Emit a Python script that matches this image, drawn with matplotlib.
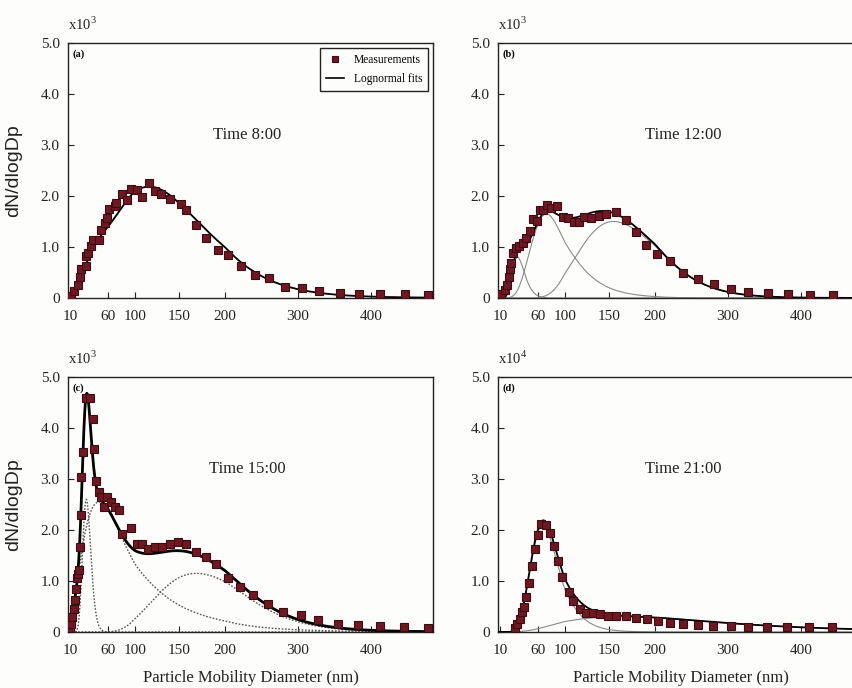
import numpy as np
import matplotlib
matplotlib.use('Agg')
import matplotlib.pyplot as plt
from matplotlib.lines import Line2D

plt.rcParams['font.family'] = 'Liberation Serif'
plt.rcParams['mathtext.fontset'] = 'custom'
plt.rcParams['mathtext.rm'] = 'Liberation Serif'

# ---- measurements (dN/dlogDp, in units of the x10^n label) ----
a_dp = [12, 16, 20.7, 22.9, 25, 30.7, 31.5, 33.7, 38, 40.2, 48, 50.2, 55.5, 59, 61.2,
        69.7, 72.1, 80.5, 87.9, 93.2, 102.5, 108.2, 115.8, 122.3, 129.9, 140.2, 151.9,
        158, 168.9, 179, 192.5, 204.2, 222.5, 240.7, 261, 281.8, 306, 328.9, 357, 383.7,
        413, 446, 478]
a_n = [0.03, 0.13, 0.26, 0.42, 0.56, 0.62, 0.82, 0.88, 1.01, 1.14, 1.14, 1.34, 1.47, 1.57,
       1.75, 1.80, 1.86, 2.03, 1.93, 2.14, 2.12, 1.98, 2.25, 2.10, 2.03, 1.95, 1.85, 1.73,
       1.44, 1.18, 0.95, 0.85, 0.62, 0.46, 0.39, 0.22, 0.20, 0.13, 0.10, 0.07, 0.08, 0.08, 0.06]

b_dp = [12, 16.3, 19.4, 22, 22.9, 25, 27.2, 30.7, 35, 40.2, 44.6, 49, 53.3, 58.5, 62.3,
        67.2, 73.1, 79.5, 87.9, 96.8, 103.3, 109.8, 115.8, 121.2, 129.9, 138.6, 146.6,
        157.2, 168.9, 179, 190.7, 203.3, 220, 239, 259, 280.5, 303.7, 327, 355, 382,
        412, 444, 478]
b_n = [0.07, 0.16, 0.26, 0.42, 0.56, 0.69, 0.88, 0.98, 1.01, 1.08, 1.18, 1.31, 1.54, 1.50,
       1.72, 1.73, 1.83, 1.76, 1.80, 1.59, 1.57, 1.49, 1.49, 1.59, 1.56, 1.60, 1.65, 1.68,
       1.52, 1.29, 1.03, 0.87, 0.73, 0.48, 0.38, 0.28, 0.18, 0.11, 0.10, 0.07, 0.05, 0.05, 0.03]

c_dp = [10.7, 12, 13.3, 15, 16.3, 17.6, 19.4, 21.1, 22, 22.9, 24.1, 25, 27.2, 31.5, 35.9,
        40.2, 41.5, 44.6, 47.6, 51.1, 54.6, 59, 63.7, 69.7, 76.1, 80.5, 94.2, 102, 108,
        114.7, 122.3, 130.6, 139.4, 148.8, 158, 169, 179, 190.7, 204, 221, 238, 259,
        279.5, 303.7, 327, 355, 382, 412, 445, 478]
c_n = [0.07, 0.16, 0.29, 0.46, 0.62, 0.85, 1.05, 1.14, 1.21, 1.67, 2.29, 3.04, 3.53, 4.58,
       4.58, 4.18, 3.59, 2.97, 2.75, 2.65, 2.45, 2.65, 2.55, 2.45, 2.39, 1.93, 2.03, 1.73,
       1.73, 1.63, 1.67, 1.67, 1.73, 1.76, 1.73, 1.57, 1.47, 1.34, 1.05, 0.88, 0.72, 0.54,
       0.39, 0.33, 0.23, 0.16, 0.13, 0.11, 0.10, 0.08]

d_dp = [29.4, 32.4, 35.9, 39.4, 41.5, 44.6, 47.6, 52, 56.3, 59.8, 63.7, 71.1, 78, 83, 89.4,
        95.8, 104.4, 109, 116.6, 124.2, 131.8, 139.4, 148.8, 158, 169, 179.7, 191.4, 204,
        220, 239, 259, 279.5, 304.5, 327, 353, 381, 411, 443, 478]
d_n = [0.07, 0.16, 0.26, 0.39, 0.49, 0.69, 0.97, 1.29, 1.63, 1.90, 2.11, 2.09, 1.95, 1.68,
       1.39, 1.07, 0.78, 0.61, 0.46, 0.37, 0.37, 0.35, 0.31, 0.31, 0.31, 0.28, 0.26, 0.21,
       0.18, 0.15, 0.14, 0.12, 0.11, 0.10, 0.09, 0.09, 0.09, 0.09, 0.08]

# ---- lognormal mode parameters: peak height, geometric mean Dp (nm), geometric std ----
a_amp, a_dg, a_sg = [1.2, 1.6], [60, 130], [1.82, 1.46]
b_amp, b_dg, b_sg = [0.8, 1.65, 1.5], [33, 72, 155], [1.28, 1.43, 1.34]
c_amp, c_dg, c_sg = [2.6, 2.55, 1.15], [31.5, 48, 169], [1.185, 1.9, 1.36]
d_amp, d_dg, d_sg = [2.1, 0.3], [67, 165], [1.34, 1.78]

times = ['Time 8:00', 'Time 12:00', 'Time 15:00', 'Time 21:00']
labels = ['(a)', '(b)', '(c)', '(d)']
exps = ['3', '3', '3', '4']

# x axis of the original is stretched unevenly between the labelled ticks
xticks = [10, 60, 100, 150, 200, 300, 400]
axis_nm = [0, 10, 60, 100, 150, 200, 300, 400, 500]
axis_pos = [-0.016, 0.005, 0.110, 0.184, 0.304, 0.430, 0.630, 0.830, 1.030]


def to_pos(x):
    return np.interp(x, axis_nm, axis_pos)


def to_nm(p):
    return np.interp(p, axis_pos, axis_nm)


def lognormal(dp, amp, dg, sg):
    return amp * np.exp(-np.log(dp / dg) ** 2 / (2 * np.log(sg) ** 2))


RED = '#701822'
EDGE = '#3a0d10'
BG = '#fdfdfb'

fig = plt.figure(figsize=(8.52, 6.88), dpi=100, facecolor=BG)
rects = [[0.0798, 0.5669, 0.4284, 0.3706],
         [0.5845, 0.5669, 0.4284, 0.3706],
         [0.0798, 0.0814, 0.4284, 0.3706],
         [0.5845, 0.0814, 0.4284, 0.3706]]

panels = [(a_dp, a_n, a_amp, a_dg, a_sg),
          (b_dp, b_n, b_amp, b_dg, b_sg),
          (c_dp, c_n, c_amp, c_dg, c_sg),
          (d_dp, d_n, d_amp, d_dg, d_sg)]

grid = np.geomspace(8, 500, 600)

for i, (dp, n, amp, dg, sg) in enumerate(panels):
    ax = fig.add_axes(rects[i])
    ax.set_facecolor(BG)
    ax.set_xscale('function', functions=(to_pos, to_nm))

    # component modes
    total = np.zeros_like(grid)
    for A, D, S in zip(amp, dg, sg):
        comp = lognormal(grid, A, D, S)
        total += comp
        if i == 2:
            ax.plot(grid, comp, color='#555555', lw=1.0, ls=(0, (1.2, 1.2)))
        elif i in (1, 3):
            ax.plot(grid, comp, color='#8a8a8a', lw=0.8)

    ax.plot(grid, total, color='black', lw=2.0 if i == 2 else 1.3, zorder=3)
    ax.plot(dp, n, ls='none', marker='s', ms=6, mfc=RED, mec=EDGE, mew=0.8, zorder=4)

    ax.set_xlim(to_nm(0), to_nm(1))
    ax.set_ylim(0, 5)
    ax.set_xticks(xticks)
    ax.set_xticklabels([str(t) for t in xticks])
    ax.set_yticks([0, 1, 2, 3, 4, 5])
    ax.set_yticklabels(['0', '1.0', '2.0', '3.0', '4.0', '5.0'])
    ax.minorticks_off()
    ax.tick_params(direction='in', length=4, width=0.8, labelsize=11, colors='#222222')
    ax.tick_params(axis='x', pad=9)
    ax.tick_params(axis='y', pad=6)
    for sp in ax.spines.values():
        sp.set_linewidth(1.0)
        sp.set_color('#222222')

    ax.text(0.0, 1.075, r'x10$^{%s}$' % exps[i], transform=ax.transAxes,
            fontsize=10.5, va='center', ha='left', color='#222222')
    ax.text(0.012, 0.957, labels[i], transform=ax.transAxes, fontsize=7.5,
            fontweight='bold', va='center', ha='left')
    ax.text(0.49 if i % 2 == 0 else 0.507, 0.64, times[i], transform=ax.transAxes,
            fontsize=12, ha='center', va='center', color='#222222')

    if i % 2 == 0:
        ax.set_ylabel('dN/dlogDp', family='Liberation Sans', fontsize=14, color='#222222')
        ax.yaxis.set_label_coords(-0.125, 0.5)
    if i >= 2:
        ax.set_xlabel('Particle Mobility Diameter (nm)', fontsize=12, color='#222222')
        ax.xaxis.set_label_coords(0.5, -0.15)

    if i == 0:
        handles = [Line2D([], [], ls='none', marker='s', ms=5, mfc=RED, mec=EDGE, mew=0.8),
                   Line2D([], [], color='black', lw=1.2)]
        leg = ax.legend(handles, ['Measurements', 'Lognormal fits'], loc='upper right',
                        fontsize=8.3, fancybox=False, edgecolor='#222222', framealpha=1,
                        borderaxespad=0.45, handlelength=1.6, borderpad=0.5,
                        labelspacing=0.6)
        leg.get_frame().set_linewidth(1.0)
        leg.get_frame().set_facecolor(BG)

fig.savefig('out.png', dpi=100, facecolor=BG)
